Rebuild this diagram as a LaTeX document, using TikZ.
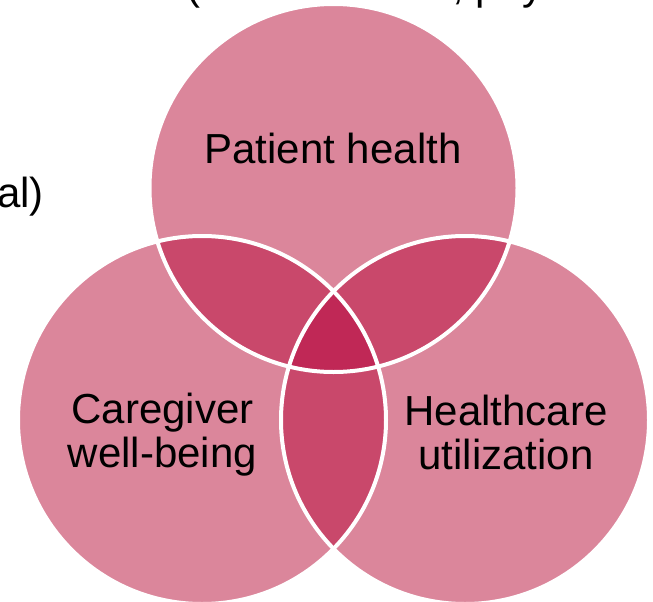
\documentclass[tikz,border=0pt]{standalone}
\usepackage{fontspec}
\setmainfont{Liberation Sans}
\definecolor{petal}{RGB}{219,134,155}
\definecolor{overlap}{RGB}{201,72,107}
\definecolor{core}{RGB}{192,40,86}

\begin{document}
\begin{tikzpicture}[x=1pt,y=-1pt,
    label/.style={font=\fontsize{42}{44}\selectfont,align=center,text=black,inner sep=0pt}]
    \useasboundingbox (0,0) rectangle (653,602);
    \clip (0,0) rectangle (653,602);
    \def\r{184}
    \coordinate (pc) at (333.5,188);
    \coordinate (cc) at (202,420);
    \coordinate (hc) at (465,420);

    % circles
    \foreach \c in {pc,cc,hc}
    {\fill[petal] (\c) circle (\r);}
    \begin{scope}
        \clip (pc) circle (\r);
        \fill[overlap] (cc) circle (\r);
        \fill[overlap] (hc) circle (\r);
    \end{scope}
    \begin{scope}
        \clip (cc) circle (\r);
        \fill[overlap] (hc) circle (\r);
        \clip (hc) circle (\r);
        \fill[core] (pc) circle (\r);
    \end{scope}
    \foreach \c in {pc,cc,hc}
    {\draw[white,line width=4pt] (\c) circle (\r);}

    % labels
    \node[label,anchor=base] (patient) at (333,163) {Patient health};
    \node[label] (caregiver) at (162.5,435) {Caregiver\\well-being};
    \node[label] (utilization) at (506,432) {Healthcare\\utilization};

    % text cut off by the frame
    \node[label,anchor=base west] (cuttop) at (186,0) {(mental health, physical};
    \node[label,anchor=base east] (cutleft) at (44,207) {al)};
\end{tikzpicture}
\end{document}
